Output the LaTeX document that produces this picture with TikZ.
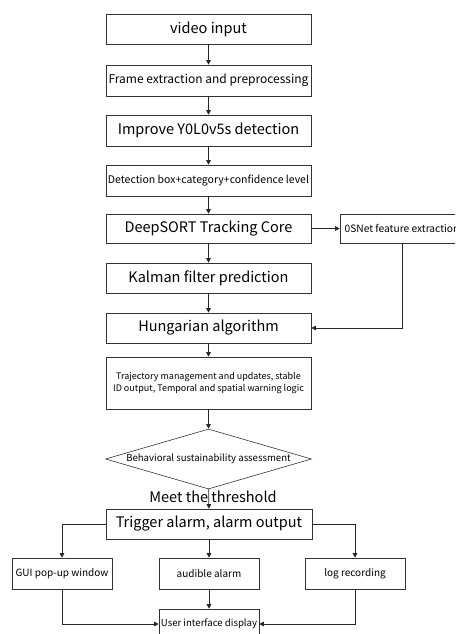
\documentclass[tikz,border=0pt]{standalone}
\usepackage{fontspec}
\setmainfont{Noto Sans CJK SC}
\usetikzlibrary{arrows.meta}
\usetikzlibrary{shapes.geometric}
\newcommand\fsbig{\fontsize{14.5pt}{17pt}\selectfont}
\newcommand\fsmid{\fontsize{12pt}{14pt}\selectfont}
\newcommand\fsout{\fontsize{10pt}{13pt}\selectfont}
\newcommand\fssmall{\fontsize{9pt}{18pt}\selectfont}
\tikzstyle{flhead}=[>/.tip={Triangle[length=4.5pt,width=4.5pt]}]
\tikzstyle{fl}=[line width=.8pt,draw=black!85,flhead,->]
\tikzstyle{stage}=[draw=black!80,line width=.6pt,minimum width=205pt,minimum height=30pt,inner sep=1pt,align=center]
\tikzstyle{branch}=[stage,minimum width=100pt,minimum height=31pt]
\tikzstyle{check}=[draw=black!80,line width=.6pt,diamond,aspect=3.4,inner sep=0pt,minimum width=206pt,minimum height=60pt]
\begin{document}
\begin{tikzpicture}[x=1pt,y=-1pt]
	\useasboundingbox (0,0) rectangle (455,634);
	\clip (0,0) rectangle (455,634);
	% main column
	\node[stage] (vid)   at (208.5,29)    {\fsbig video input};
	\node[stage,minimum height=31pt] (frame) at (208.5,80.5)  {\fsmid Frame extraction and preprocessing};
	\node[stage,minimum height=31pt] (yolo)  at (208.5,130.5) {\fsbig Improve Y0L0v5s detection};
	\node[stage,minimum height=31pt] (det)   at (208.5,180.5) {\fontsize{10.5pt}{13pt}\selectfont Detection box+category+confidence level};
	\node[stage,minimum height=29pt] (deep)  at (208.5,228.5) {\fsbig DeepSORT Tracking Core};
	\node[stage] (kal)   at (208.5,278)   {\fsbig Kalman filter prediction};
	\node[stage] (hung)  at (208.5,328)   {\fsbig Hungarian algorithm};
	\node[stage,minimum height=52pt] (traj) at (208.5,383)
		{\fssmall Trajectory management and updates, stable\\ \fssmall ID output, Temporal and spatial warning logic};
	\node[check] (judge) at (208.5,459) {\fontsize{9.6pt}{12pt}\selectfont Behavioral sustainability assessment};
	\node[stage,minimum width=206pt] (trig) at (209,524) {\fsbig Trigger alarm, alarm output};
	% side branch
	\node[branch,minimum width=124pt,minimum height=29pt] (osnet) at (402,228.5)
		{\fontsize{10.2pt}{12pt}\selectfont 0SNet feature extraction};
	% outputs
	\node[branch] (gui) at (62,573.5)  {\fsout GUI pop-up window};
	\node[branch] (aud) at (209,573.5) {\fsout audible alarm};
	\node[branch] (log) at (355,573.5) {\fsout log recording};
	\node[branch,minimum height=30pt] (ui) at (209,624) {\fontsize{9.6pt}{12pt}\selectfont User interface display};
	\draw[fl] (vid) -- (frame);
	\draw[fl] (frame) -- (yolo);
	\draw[fl] (yolo) -- (det);
	\draw[fl] (det) -- (deep);
	\draw[fl] (deep) -- (kal);
	\draw[fl] (kal) -- (hung);
	\draw[fl] (hung) -- (traj);
	\draw[fl] (traj) -- (judge);
	\draw[fl] (judge) -- (trig);
	\draw[fl] (deep) -- (osnet);
	\draw[fl] (osnet.south) |- (hung.east);
	\draw[fl] (trig.west) -| (gui.north);
	\draw[fl] (trig) -- (aud);
	\draw[fl] (trig.east) -| (log.north);
	\draw[fl] (gui.south) |- (ui.west);
	\draw[fl] (aud) -- (ui);
	\draw[fl] (log.south) |- (ui.east);
	\node (meet) at (213,497) {\fsbig Meet the threshold};
\end{tikzpicture}
\end{document}
